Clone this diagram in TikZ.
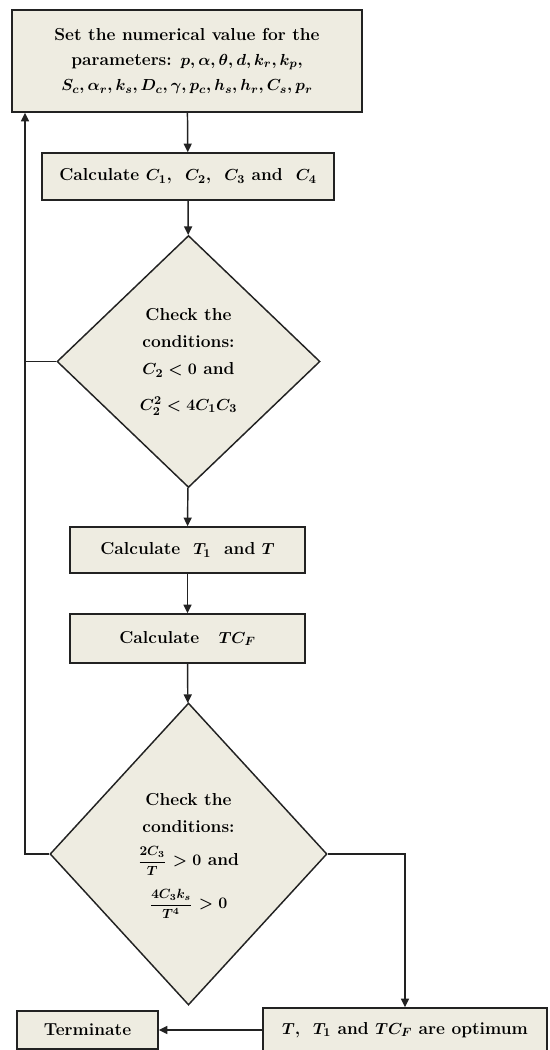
\documentclass[tikz,border=0pt]{standalone}
\usepackage{amsmath}
\usepackage{xcolor}
\definecolor{boxfill}{HTML}{EEECE1}
\definecolor{lineblk}{HTML}{222222}
\usetikzlibrary{shapes.geometric, arrows.meta}

\newcommand{\smallfrac}[2]{{\fontsize{10}{12}\selectfont$\dfrac{#1}{#2}$}}

\begin{document}
\begin{tikzpicture}[x=0.75pt, y=-0.75pt,
  font=\fontsize{13}{19}\selectfont\bfseries\boldmath,
  box/.style={rectangle, draw=lineblk, fill=boxfill, line width=1.1pt,
    align=center, inner sep=0pt},
  decision/.style={diamond, draw=lineblk, fill=boxfill, line width=1.1pt,
    align=center, inner sep=0pt, font=\fontsize{13}{20.5}\selectfont\bfseries\boldmath},
  arr/.style={-{Triangle[length=6.5pt, width=6pt]}, draw=lineblk, line width=1.1pt}]
\useasboundingbox (0,0) rectangle (550,1050);
\node[box, minimum width=262.5pt, minimum height=76.5pt] (params) at (187,61)
  {Set the numerical value for the\\
   parameters: $p, \alpha, \theta, d, k_r, k_p,$\\
   $S_c, \alpha_r, k_s, D_c, \gamma, p_c, h_s, h_r, C_s, p_r$};
\node[box, minimum width=219pt, minimum height=35.25pt] (calcC) at (188,176.5)
  {Calculate $C_1$,\ \ $C_2$,\ \ $C_3$ and\ \ $C_4$};
\node[decision, minimum width=197.25pt, minimum height=189pt] (check1) at (188.5,361.5)
  {Check the\\ conditions:\\ $C_2 < 0$ and\\[6pt] $C_2^2 < 4C_1C_3$};
\node[box, minimum width=176.25pt, minimum height=34.5pt] (calcT) at (187.5,550)
  {Calculate\ \ $T_1$\ \ and $T$};
\node[box, minimum width=176.25pt, minimum height=36.75pt] (calcTC) at (187.5,638.5)
  {Calculate\ \ \ $TC_F$};
\node[decision, minimum width=207.75pt, minimum height=226.5pt] (check2) at (188.5,854)
  {\rule{0pt}{12pt}Check the\\ conditions:\\[4pt] \smallfrac{2C_3}{T} $> 0$ and\\[9pt]
   \smallfrac{4C_3k_s}{T^4} $> 0$};
\node[box, minimum width=213pt, minimum height=33pt] (optimum) at (405,1030)
  {$T$,\ \ $T_1$ and $TC_F$ are optimum};
\node[box, minimum width=105.75pt, minimum height=28.5pt] (terminate) at (87.5,1030)
  {Terminate};
\coordinate (loop) at (25,854);

\draw[arr] (params) -- (calcC);
\draw[arr] (calcC) -- (check1);
\draw[arr] (check1) -- (calcT);
\draw[arr] (calcT) -- (calcTC);
\draw[arr] (calcTC) -- (check2);
\draw[arr] (check2.east) -| (optimum.north);
\draw[arr] (optimum.west) -- (terminate.east);
\draw[arr] (check2.west) -- (loop) -- (loop |- params.south);
\draw[draw=lineblk, line width=1.1pt] (check1.west) -- (check1.west -| loop);
\end{tikzpicture}
\end{document}
